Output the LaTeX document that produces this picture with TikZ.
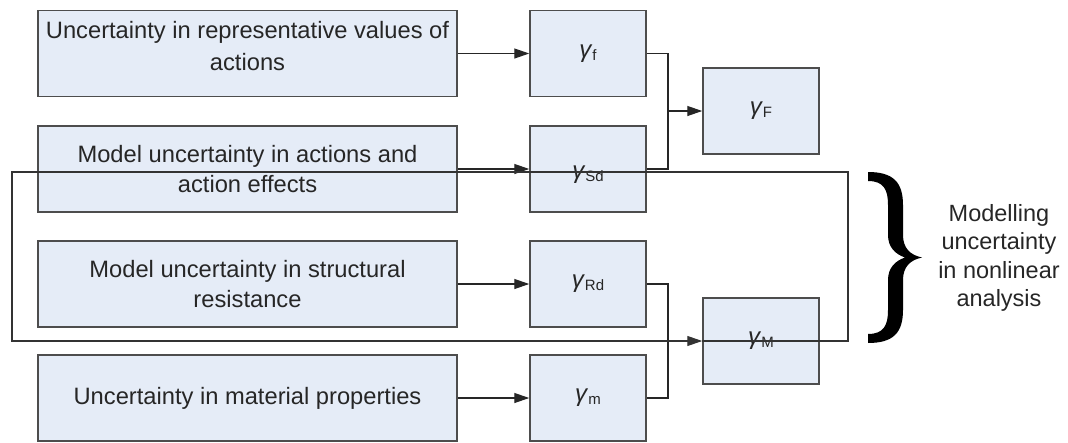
\documentclass[tikz,border=0pt]{standalone}
\usepackage{fontspec}
\setmainfont{Liberation Sans}
\usetikzlibrary{arrows.meta}
\definecolor{boxfill}{HTML}{E5ECF7}
\definecolor{boxline}{HTML}{4D4D4D}
\definecolor{txt}{HTML}{262626}
\newcommand{\gsym}[1]{\textit{γ}\raisebox{-3pt}{\fontsize{15}{15}\selectfont #1}}
\tikzset{
  ubox/.style={draw=boxline, fill=boxfill, line width=1.5pt, minimum width=419pt, minimum height=86pt, inner sep=0pt, align=center, text=txt, font=\fontsize{23.7}{30}\selectfont},
  gbox/.style={draw=boxline, fill=boxfill, line width=1.5pt, minimum width=116pt, minimum height=86pt, inner sep=0pt, text=txt, font=\fontsize{24}{28}\selectfont},
  conn/.style={draw=black!85, line width=1.3pt},
  arr/.style={conn, -{Triangle[length=15pt,width=10pt]}},
  loopline/.style={draw=black!80, line width=1.1pt},
  looparr/.style={loopline, -{Triangle[length=15pt,width=10pt]}},
}
\begin{document}
\begin{tikzpicture}[x=1pt,y=-1pt]
\useasboundingbox (0,0) rectangle (1068,442);
\clip (0,0) rectangle (1068,442);
% left boxes
\node[ubox] (L1) at (247.5,53.5) {\raisebox{5pt}[\height][\depth]{\begin{tabular}{@{}c@{}}Uncertainty in representative values of\\[2pt]actions\end{tabular}}};
\node[ubox] (L2) at (247.5,169) {Model uncertainty in actions and\\action effects};
\node[ubox] (L3) at (247.5,284) {Model uncertainty in structural\\resistance};
\node[ubox] (L4) at (247.5,398) {Uncertainty in material properties};
% gamma boxes
\node[gbox] (gf) at (588,53.5) {\gsym{f}};
\node[gbox] (gSd) at (588,169) {\raisebox{-6pt}[\height][\depth]{\gsym{Sd}}};
\node[gbox] (gRd) at (588,284) {\gsym{Rd}};
\node[gbox] (gm) at (588,398) {\gsym{m}};
\node[gbox] (gF) at (761,111) {\gsym{F}};
\node[gbox] (gM) at (761,341) {\gsym{M}};
% junctions
\coordinate (j1) at (668,111);
\coordinate (j2) at (668,341);
% connectors
\draw[arr] (L1.east) -- (gf.west);
\draw[arr] (L2.east) -- (gSd.west);
\draw[arr] (L3.east) -- (gRd.west);
\draw[arr] (L4.east) -- (gm.west);
\draw[conn] (gf.east) -| (j1) |- (gSd.east);
\draw[arr] (j1) -- (gF.west);
\draw[conn] (gRd.east) -| (j2) |- (gm.east);
% loop
\coordinate (c1) at (12,172);
\coordinate (c2) at (848,172);
\coordinate (c3) at (848,341);
\coordinate (c4) at (12,341);
\draw[looparr] (gM.west) -- (c3) -- (c2) -- (c1) -- (c4) -- (gM.west);
% brace
\fill[black] (868,172) .. controls (893,172) and (903,182) .. (903,205) -- (903,235)
  .. controls (903,248) and (910,255) .. (922,257.5)
  .. controls (910,260) and (903,267) .. (903,280) -- (903,310)
  .. controls (903,333) and (893,343) .. (868,343) -- (868,334)
  .. controls (884,334) and (888,325) .. (888,310) -- (888,280)
  .. controls (888,268) and (895,261) .. (905,257.5)
  .. controls (895,254) and (888,247) .. (888,235) -- (888,205)
  .. controls (888,190) and (884,181) .. (868,181) -- cycle;
\node[align=center, text=txt, font=\fontsize{23.5}{28.5}\selectfont] (lab) at (999,258) {Modelling\\uncertainty\\in nonlinear\\analysis};
\end{tikzpicture}
\end{document}
